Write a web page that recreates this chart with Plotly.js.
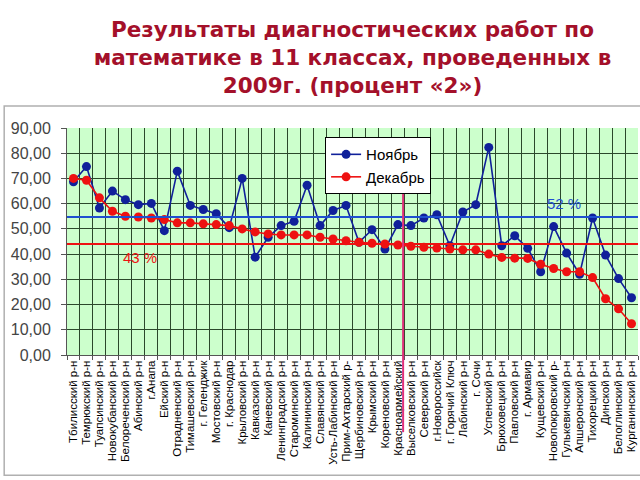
<!DOCTYPE html>
<html>
<head>
<meta charset="utf-8">
<script src="https://cdn.plot.ly/plotly-3.0.1.min.js"></script>
<style>
html,body{margin:0;padding:0;background:#fff;}
#chart{width:640px;height:480px;}
</style>
</head>
<body>
<div id="chart"></div>
<script>
const districts = [
  "Тбилисский р-н","Темрюкский р-н","Туапсинский р-н","Новокубанский р-н","Белореченский р-н",
  "Абинский р-н","г.Анапа","Ейский р-н","Отрадненский р-н","Тимашевский р-н",
  "г. Геленджик","Мостовский р-н","г. Краснодар","Крыловский р-н","Кавказский р-н",
  "Каневский р-н","Ленинградский р-н","Староминский р-н","Калининский р-н","Славянский р-н",
  "Усть-Лабинский р-н","Прим-Ахтарский р-","Щербиновский р-н","Крымский р-н","Кореновский р-н",
  "Красноармейский","Выселковский р-н","Северский р-н","г.Новороссийск","г. Горячий Ключ",
  "Лабинский р-н","г. Сочи","Успенский р-н","Брюховецкий р-н","Павловский р-н",
  "г. Армавир","Кущевский р-н","Новопокровский р-","Гулькевичский р-н","Апшеронский р-н",
  "Тихорецкий р-н","Динской р-н","Белоглинский р-н","Курганинский р-н"
];
const november = [
  68.7,74.7,58.3,65.0,61.6,59.6,60.1,49.3,72.9,59.3,
  57.7,56.0,50.5,70.0,38.8,46.7,51.3,53.0,67.3,51.3,
  57.3,59.3,44.7,49.7,42.0,51.7,51.3,54.3,55.6,43.3,
  56.7,59.6,82.3,43.3,47.3,42.3,33.0,50.9,40.4,32.0,
  54.3,39.6,30.3,22.7
];
const december = [
  70.0,69.3,62.3,57.0,55.0,54.7,54.3,53.7,52.4,52.4,
  52.0,51.7,51.3,50.0,48.8,48.0,47.6,47.6,47.6,46.7,
  46.0,45.3,44.7,44.3,44.0,43.6,43.1,42.7,42.4,42.0,
  41.7,41.7,40.0,38.7,38.4,38.3,36.0,34.3,33.0,33.0,
  30.7,22.3,18.3,12.4
];
const seriesNames = ["Ноябрь","Декабрь"];
const levelNov = 54.7, levelDec = 44.0;
const levelNovLabel = "52 %", levelDecLabel = "43 %";
const dividerAt = 25.4;

const blue = "#10209a", red = "#ee1111";

const traces = [
  {x: districts, y: november, name: seriesNames[0], type: "scatter", mode: "lines+markers",
   line: {color: blue, width: 1.6}, marker: {color: blue, size: 9}},
  {x: districts, y: december, name: seriesNames[1], type: "scatter", mode: "lines+markers",
   line: {color: red, width: 1.6}, marker: {color: red, size: 9}}
];

const layout = {
  width: 640, height: 480,
  margin: {l: 67, r: 2, t: 128, b: 125},
  paper_bgcolor: "#ffffff",
  plot_bgcolor: "#ccffcc",
  separators: ", ",
  showlegend: true,
  title: {
    text: "Результаты диагностических работ по<br>математике в 11 классах, проведенных в<br>2009г. (процент «2»)",
    font: {family: "DejaVu Sans, sans-serif", size: 21.5, color: "#a4102a", weight: "bold"},
    x: 0.5, xref: "paper", xanchor: "center", y: 0.922, yanchor: "top"
  },
  xaxis: {
    type: "category", tickson: "boundaries", tickangle: -90,
    tickmode: "array", tickvals: districts, ticktext: districts,
    showgrid: true, gridcolor: "#2a482a", gridwidth: 1,
    ticks: "outside", ticklen: 4, tickcolor: "#555",
    showline: true, linecolor: "#555", linewidth: 1,
    tickfont: {family: "Liberation Sans, Arial, sans-serif", size: 11.5, color: "#000"},
    range: [-0.5, districts.length - 0.5], fixedrange: true
  },
  yaxis: {
    range: [0, 90], dtick: 10, tickformat: ".2f",
    showgrid: true, gridcolor: "#2a482a", gridwidth: 1,
    ticks: "outside", ticklen: 5, tickcolor: "#555",
    showline: true, linecolor: "#555", linewidth: 1,
    zeroline: false, ticklabelstandoff: 7,
    tickfont: {family: "Liberation Sans, Arial, sans-serif", size: 16, color: "#444"}
  },
  legend: {
    x: 0.452, y: 0.96, xanchor: "left", yanchor: "top",
    bgcolor: "#ffffff", bordercolor: "#000", borderwidth: 1,
    font: {family: "Liberation Sans, Arial, sans-serif", size: 15, color: "#000"},
    itemwidth: 30, tracegroupgap: 2
  },
  shapes: [
    {type: "line", xref: "paper", x0: 0, x1: 1, yref: "y", y0: levelNov, y1: levelNov,
     line: {color: "#1f4fd0", width: 2}},
    {type: "line", xref: "paper", x0: 0, x1: 1, yref: "y", y0: levelDec, y1: levelDec,
     line: {color: "#ee1111", width: 2}},
    {type: "line", xref: "x", x0: dividerAt, x1: dividerAt, yref: "paper", y0: -0.34, y1: 0.718,
     line: {color: "#e0307a", width: 2}},
    {type: "rect", xref: "paper", yref: "paper", x0: -0.110, x1: 1.02, y0: -0.53, y1: 1.097,
     line: {color: "#b0b0b0", width: 1.5}, fillcolor: "rgba(0,0,0,0)", layer: "below"}
  ],
  annotations: [
    {xref: "paper", yref: "y", x: 0.87, y: levelNov + 1.3, text: levelNovLabel, showarrow: false,
     xanchor: "center", yanchor: "bottom",
     font: {family: "Liberation Sans, Arial, sans-serif", size: 15, color: "#1f4fd0"}},
    {xref: "paper", yref: "y", x: 0.127, y: levelDec - 1.3, text: levelDecLabel, showarrow: false,
     xanchor: "center", yanchor: "top",
     font: {family: "Liberation Sans, Arial, sans-serif", size: 15, color: "#ee1111"}}
  ]
};

Plotly.newPlot("chart", traces, layout, {staticPlot: true, displayModeBar: false});
</script>
</body>
</html>
